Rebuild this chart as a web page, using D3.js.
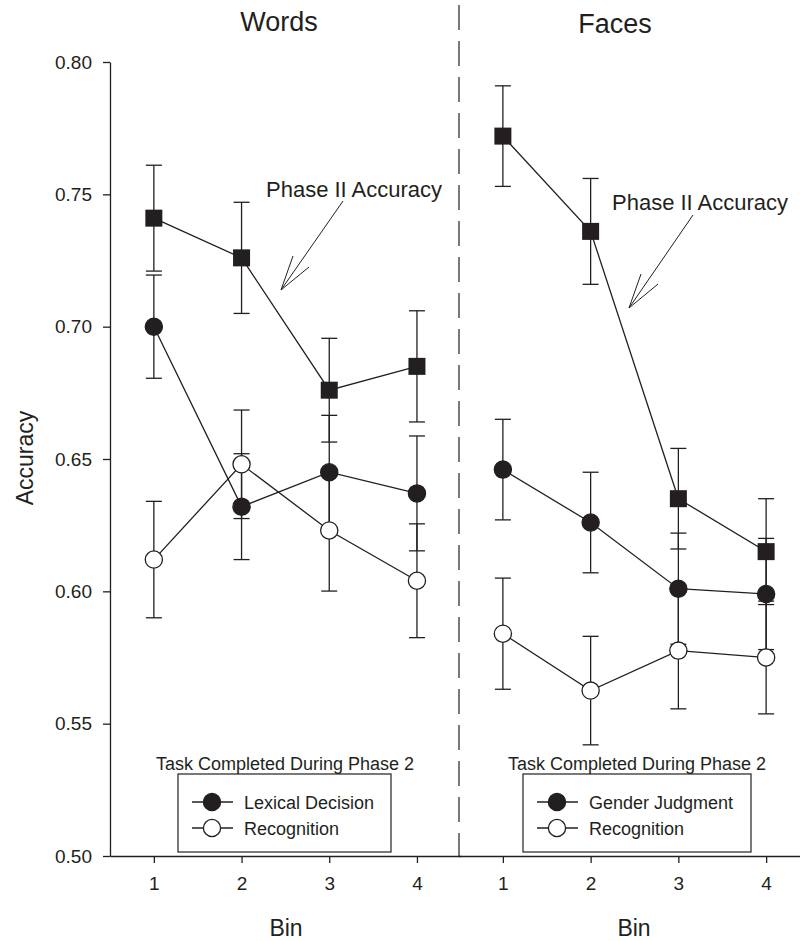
<!DOCTYPE html>
<html>
<head>
<meta charset="utf-8">
<script src="https://cdn.jsdelivr.net/npm/d3@7"></script>
<style>
  body { margin: 0; background: #fff; }
  svg text { font-family: "Liberation Sans", Arial, sans-serif; fill: #231f20; }
</style>
</head>
<body>
<div id="graph"></div>
<script>
// Data
const bins = [1, 2, 3, 4];
const yTicks = [0.50, 0.55, 0.60, 0.65, 0.70, 0.75, 0.80];

const wordsPhase2 = [0.741, 0.726, 0.676, 0.685];
const wordsPhase2Err = [0.020, 0.021, 0.0196, 0.021];
const wordsLexical = [0.700, 0.632, 0.645, 0.637];
const wordsLexicalErr = [0.0195, 0.020, 0.0215, 0.0217];
const wordsRecog = [0.612, 0.648, 0.623, 0.604];
const wordsRecogErr = [0.022, 0.0205, 0.0229, 0.0215];

const facesPhase2 = [0.772, 0.736, 0.635, 0.615];
const facesPhase2Err = [0.019, 0.020, 0.019, 0.020];
const facesGender = [0.646, 0.626, 0.601, 0.599];
const facesGenderErr = [0.019, 0.019, 0.021, 0.021];
const facesRecog = [0.584, 0.5625, 0.5776, 0.575];
const facesRecogErr = [0.021, 0.0205, 0.022, 0.0213];

const ink = '#231f20';
const width = 800;
const height = 941;

const svg = d3.select('#graph')
  .append('svg')
    .attr('width', width)
    .attr('height', height);

// Scales
const yScale = d3.scaleLinear()
  .domain([0.5, 0.8])
  .range([856, 62]);

const xLeft = d3.scaleLinear()
  .domain([0.5, 4.5])
  .range([110, 460.8]);

const xRight = d3.scaleLinear()
  .domain([0.5, 4.5])
  .range([459, 810]);

// Axes
const yAxis = svg.append('g')
  .attr('transform', `translate(${xLeft.range()[0]},0)`)
  .call(d3.axisLeft(yScale)
    .tickValues(yTicks)
    .tickFormat(d3.format('.2f'))
    .tickSize(7)
    .tickSizeOuter(0)
    .tickPadding(11));

const xAxisFor = (xScale) => svg.append('g')
  .attr('transform', `translate(0,${yScale.range()[0]})`)
  .call(d3.axisBottom(xScale)
    .tickValues(bins)
    .tickFormat(d3.format('d'))
    .tickSize(7)
    .tickSizeOuter(0)
    .tickPadding(14));

const xAxes = [xAxisFor(xLeft), xAxisFor(xRight)];

[yAxis, ...xAxes].forEach((g) => {
  g.selectAll('path, line').attr('stroke', ink).attr('stroke-width', 1.3);
  g.selectAll('text')
    .attr('fill', ink)
    .style('font-size', '19px')
    .style('font-family', '"Liberation Sans", Arial, sans-serif');
});

// Dashed divider between panels
svg.append('line')
  .attr('x1', 459).attr('x2', 459)
  .attr('y1', 5).attr('y2', yScale.range()[0])
  .attr('stroke', ink)
  .attr('stroke-width', 1.2)
  .attr('stroke-dasharray', '25,11');

// Draw one panel of series
const drawPanel = (xScale, series) => {
  const g = svg.append('g');
  const line = d3.line()
    .x((d) => xScale(d.bin))
    .y((d) => yScale(d.value));

  const rows = series.map((s) => bins.map((bin, i) => ({
    bin,
    value: s.values[i],
    err: s.errors[i],
    shape: s.shape,
    fill: s.fill,
  })));

  // connecting lines
  g.selectAll('path.series')
    .data(rows)
    .join('path')
      .attr('class', 'series')
      .attr('d', line)
      .attr('fill', 'none')
      .attr('stroke', ink)
      .attr('stroke-width', 1.3);

  // error bars
  const all = rows.flat();
  const bars = g.selectAll('g.err')
    .data(all)
    .join('g')
      .attr('class', 'err')
      .attr('stroke', ink)
      .attr('stroke-width', 1.3);

  bars.append('line')
    .attr('x1', (d) => xScale(d.bin))
    .attr('x2', (d) => xScale(d.bin))
    .attr('y1', (d) => yScale(d.value + d.err))
    .attr('y2', (d) => yScale(d.value - d.err));

  [1, -1].forEach((sign) => {
    bars.append('line')
      .attr('x1', (d) => xScale(d.bin) - 8)
      .attr('x2', (d) => xScale(d.bin) + 8)
      .attr('y1', (d) => yScale(d.value + sign * d.err))
      .attr('y2', (d) => yScale(d.value + sign * d.err));
  });

  // markers
  g.selectAll('rect.mark')
    .data(all.filter((d) => d.shape === 'square'))
    .join('rect')
      .attr('class', 'mark')
      .attr('x', (d) => xScale(d.bin) - 8.5)
      .attr('y', (d) => yScale(d.value) - 8.5)
      .attr('width', 17)
      .attr('height', 17)
      .attr('fill', ink);

  g.selectAll('circle.mark')
    .data(all.filter((d) => d.shape === 'circle'))
    .join('circle')
      .attr('class', 'mark')
      .attr('cx', (d) => xScale(d.bin))
      .attr('cy', (d) => yScale(d.value))
      .attr('r', 8.6)
      .attr('fill', (d) => d.fill)
      .attr('stroke', ink)
      .attr('stroke-width', 1.3);
};

drawPanel(xLeft, [
  { values: wordsPhase2, errors: wordsPhase2Err, shape: 'square', fill: ink },
  { values: wordsLexical, errors: wordsLexicalErr, shape: 'circle', fill: ink },
  { values: wordsRecog, errors: wordsRecogErr, shape: 'circle', fill: '#fff' },
]);

drawPanel(xRight, [
  { values: facesPhase2, errors: facesPhase2Err, shape: 'square', fill: ink },
  { values: facesGender, errors: facesGenderErr, shape: 'circle', fill: ink },
  { values: facesRecog, errors: facesRecogErr, shape: 'circle', fill: '#fff' },
]);

// Titles and axis labels
const addText = (x, y, text, size, anchor = 'middle') => svg.append('text')
  .attr('x', x)
  .attr('y', y)
  .attr('text-anchor', anchor)
  .style('font-size', `${size}px`)
  .text(text);

addText(279, 31, 'Words', 27);
addText(615, 33, 'Faces', 27);
addText(286, 936, 'Bin', 23);
addText(634, 936, 'Bin', 23);

svg.append('text')
  .attr('transform', 'translate(33,458) rotate(-90)')
  .attr('text-anchor', 'middle')
  .style('font-size', '23px')
  .text('Accuracy');

// "Phase II Accuracy" annotations with open arrows
const annotate = (tx, ty, from, tip, arms) => {
  addText(tx, ty, 'Phase II Accuracy', 22, 'start');
  const g = svg.append('g')
    .attr('stroke', ink)
    .attr('stroke-width', 1)
    .attr('fill', 'none');
  g.append('line')
    .attr('x1', from[0]).attr('y1', from[1])
    .attr('x2', tip[0]).attr('y2', tip[1]);
  arms.forEach((a) => {
    g.append('line')
      .attr('x1', tip[0]).attr('y1', tip[1])
      .attr('x2', a[0]).attr('y2', a[1]);
  });
};

annotate(266, 197, [343, 201], [281, 290], [[293, 256], [309, 267]]);
annotate(612, 210, [693, 215], [629, 308], [[641, 274], [658, 284]]);

// Legends
const legend = (cx, box, labels) => {
  addText(cx, 769.5, 'Task Completed During Phase 2', 18);
  svg.append('rect')
    .attr('x', box[0])
    .attr('y', 774)
    .attr('width', box[1] - box[0])
    .attr('height', 78)
    .attr('fill', '#fff')
    .attr('stroke', ink)
    .attr('stroke-width', 1.2);

  const items = svg.append('g')
    .selectAll('g')
    .data(labels)
    .join('g')
      .attr('transform', (d, i) => `translate(${box[0] + 34},${802 + i * 26})`);

  items.append('line')
    .attr('x1', -20).attr('x2', 21)
    .attr('stroke', ink)
    .attr('stroke-width', 1.3);

  items.append('circle')
    .attr('r', 8.6)
    .attr('fill', (d) => d.fill)
    .attr('stroke', ink)
    .attr('stroke-width', 1.3);

  items.append('text')
    .attr('x', 32)
    .attr('y', 6.5)
    .style('font-size', '18px')
    .text((d) => d.label);
};

legend(285, [178, 391], [
  { label: 'Lexical Decision', fill: ink },
  { label: 'Recognition', fill: '#fff' },
]);

legend(637, [523, 751], [
  { label: 'Gender Judgment', fill: ink },
  { label: 'Recognition', fill: '#fff' },
]);
</script>
</body>
</html>
